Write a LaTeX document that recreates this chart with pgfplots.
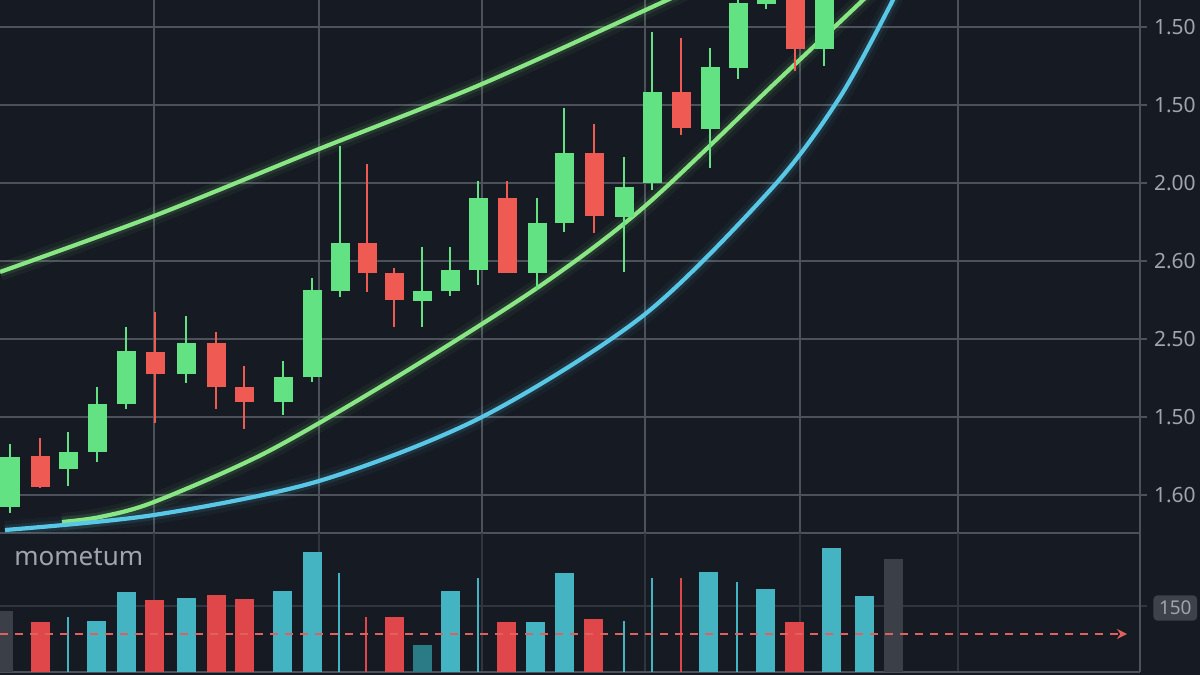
\documentclass[border=0pt]{standalone}
\usepackage{fontspec}
\setmainfont{Noto Sans}
\usepackage{pgfplots}
\usepackage{pgfplotstable}
\pgfplotsset{compat=1.18}
\usetikzlibrary{arrows.meta}
\definecolor{bg}{HTML}{161A22}
\definecolor{gridc}{HTML}{4C515A}
\definecolor{gridlow}{HTML}{30353E}
\definecolor{labelc}{HTML}{A0A4AB}
\definecolor{cgreen}{HTML}{63E283}
\definecolor{cred}{HTML}{EF5B52}
\definecolor{lgreen}{HTML}{88E684}
\definecolor{lblue}{HTML}{58C8E6}
\definecolor{bteal}{HTML}{44B3C2}
\definecolor{bred}{HTML}{E0474A}
\definecolor{bdark}{HTML}{2A7B86}
\definecolor{bgrey}{HTML}{3A3F48}
\definecolor{boxc}{HTML}{3E434B}
\definecolor{dashc}{HTML}{E0605D}
\pgfplotsset{
  wick/.style={only marks, mark=*, mark size=0pt, mark options={draw=none, fill=none}, forget plot,
    error bars/.cd, y dir=plus, y explicit, error mark=none,
    error bar style={color=#1, line width=1.2pt}},
  body/.style={only marks, mark=*, mark size=0pt, mark options={draw=none, fill=none}, forget plot,
    error bars/.cd, y dir=plus, y explicit, error mark=none,
    error bar style={color=#1, line width=9.5pt}},
}
\pgfplotstableread{
x y
0 261
154 317
319 384
482 449
663 531
720 558
}\upperline
\pgfplotstableread{
x y
62 11
100 16
154 31
267 81
400 158
540 247
644 326
773 448
863 533
890 560
}\midline
\pgfplotstableread{
x y
5 3
154 18
319 52
482 116
644 218
773 346
840 436
893 533
910 570
}\blueline
\begin{document}
\begin{tikzpicture}
\fill[bg] (0,0) rectangle (600pt,337.5pt);
% ---------------- main panel ----------------
\begin{axis}[
  at={(0pt,71pt)}, anchor=south west, scale only axis,
  width=570pt, height=266.5pt,
  xmin=0, xmax=1140, ymin=0, ymax=533,
  axis x line*=bottom, axis y line*=right,
  axis line style={-, draw=gridc, line width=0.9pt},
  xtick={154,319,482,645,800,958}, xticklabels={},
  xtick style={draw=none},
  ytick={38,116,194,272,350,428,506},
  yticklabels={1.60,1.50,2.50,2.60,2.00,1.50,1.50},
  ytick style={draw=gridc, line width=0.9pt},
  major tick length=3.5pt, tick align=outside,
  grid=major, grid style={draw=gridc, line width=0.9pt},
  yticklabel style={text=labelc, font=\fontsize{10.5}{12}\selectfont},
  clip mode=individual,
]
% glow of curves
\addplot[lgreen, line width=9pt, opacity=0.05, smooth, forget plot] table {\upperline};
\addplot[lgreen, line width=9pt, opacity=0.05, smooth, forget plot] table {\midline};
\addplot[lblue, line width=9pt, opacity=0.05, smooth, forget plot] table {\blueline};
\addplot[lgreen, line width=5pt, opacity=0.10, smooth, forget plot] table {\upperline};
\addplot[lgreen, line width=5pt, opacity=0.10, smooth, forget plot] table {\midline};
\addplot[lblue, line width=5pt, opacity=0.10, smooth, forget plot] table {\blueline};
% curves
\addplot[lgreen, line width=2.1pt, smooth] table {\upperline};
\addplot[lgreen, line width=2.1pt, smooth] table {\midline};
\addplot[lblue, line width=2.1pt, smooth] table {\blueline};
% green candles
\addplot[wick=cgreen] coordinates {
(10,20)+=(0,69) (68,47)+=(0,54) (97,71)+=(0,75) (126,124)+=(0,82) (186,150)+=(0,67)
(283,118)+=(0,54) (312,151)+=(0,104) (340,236)+=(0,151) (422,206)+=(0,80) (450,237)+=(0,49)
(478,248)+=(0,104) (537,243)+=(0,92) (564,301)+=(0,124) (624,261)+=(0,115) (652,343)+=(0,158)
(710,365)+=(0,120) (738,454)+=(0,106) (766,524)+=(0,26) (824,467)+=(0,103)};
\addplot[body=cgreen] coordinates {
(10,26)+=(0,50) (68,64)+=(0,17) (97,81)+=(0,48) (126,129)+=(0,53) (186,159)+=(0,31)
(283,131)+=(0,25) (312,156)+=(0,87) (340,242)+=(0,48) (422,232)+=(0,10) (450,242)+=(0,21)
(478,263)+=(0,72) (537,260)+=(0,50) (564,310)+=(0,70) (624,316)+=(0,30) (652,350)+=(0,91)
(710,404)+=(0,62) (738,465)+=(0,65) (766,529)+=(0,16) (824,484)+=(0,76)};
% red candles
\addplot[wick=cred] coordinates {
(40,45)+=(0,50) (155,110)+=(0,111) (216,124)+=(0,77) (244,104)+=(0,63) (367,241)+=(0,128)
(394,206)+=(0,59) (507,260)+=(0,92) (594,300)+=(0,109) (681,398)+=(0,97) (795,462)+=(0,108)};
\addplot[body=cred] coordinates {
(40,46)+=(0,31) (155,159)+=(0,22) (216,146)+=(0,44) (244,131)+=(0,15) (367,260)+=(0,30)
(394,233)+=(0,27) (507,260)+=(0,75) (594,317)+=(0,63) (681,405)+=(0,36) (795,484)+=(0,76)};
\end{axis}
% ---------------- momentum panel ----------------
\begin{axis}[
  at={(0pt,1.5pt)}, anchor=south west, scale only axis,
  width=570pt, height=69.5pt,
  xmin=0, xmax=1140, ymin=0, ymax=139,
  axis x line*=bottom, axis y line*=right,
  axis line style={-, draw=gridc, line width=0.9pt},
  xtick={154,319,482,645,800,958}, xticklabels={},
  xtick style={draw=none},
  ytick={66}, yticklabels={150},
  ytick style={draw=gridlow, line width=0.9pt},
  major tick length=3.5pt, tick align=outside,
  grid=major, grid style={draw=gridlow, line width=0.9pt},
  yticklabel style={text=labelc, fill=boxc, rounded corners=2pt, inner sep=2.8pt,
    font=\fontsize{9.5}{11}\selectfont, yshift=-1pt, xshift=3pt},
  clip mode=individual,
]
\addplot[ycomb, bgrey, line width=9.5pt] coordinates {(3,61) (893.5,113)};
\addplot[ycomb, bred, line width=9.5pt] coordinates {(40,50) (154.5,72) (216,77) (244,73) (394,55) (506.5,50) (593.5,53) (794,50)};
\addplot[ycomb, bteal, line width=9.5pt] coordinates {(96.5,51) (126,80) (186.5,74) (282,81) (312.5,120) (450.5,81) (535.5,50) (564.5,99) (708.5,100) (765,83) (831.5,124) (864.5,76)};
\addplot[ycomb, bdark, line width=9.5pt] coordinates {(422.5,27)};
\addplot[ycomb, bteal, line width=1pt] coordinates {(68,55) (339,99) (478,94) (624,51) (652,94) (737,90)};
\addplot[ycomb, bred, line width=1pt] coordinates {(366,55) (681,94)};
\addplot[dashc, line width=1pt, dash pattern=on 4pt off 3.5pt, -{Stealth[length=5pt,width=5pt]}] coordinates {(0,38) (1127,38)};
\node[anchor=base west, text=labelc, font=\fontsize{13}{15}\selectfont, inner sep=0pt] at (axis cs:14,106) {mometum};
\end{axis}
\pgfresetboundingbox
\useasboundingbox (0,0) rectangle (600pt,337.5pt);
\end{tikzpicture}
\end{document}
